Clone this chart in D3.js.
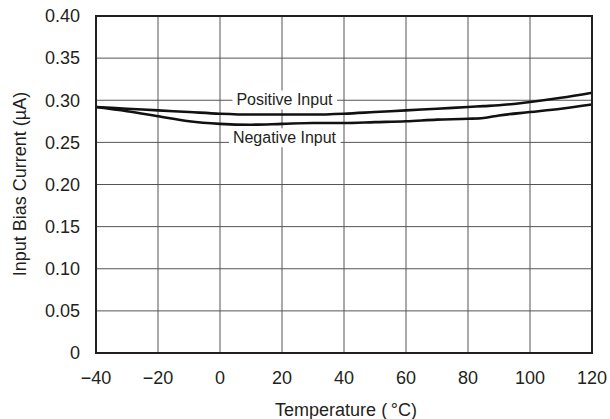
<!DOCTYPE html>
<meta charset="utf-8">
<style>
  body { margin: 0; background: #fff; }
  text { font-family: "Liberation Sans", Arial, sans-serif; fill: #231f20; }
</style>
<script src="https://d3js.org/d3.v7.min.js"></script>
<body>
<svg width="610" height="419"></svg>
<script>
const temps = [-40, -30, -20, -10, 0, 10, 20, 30, 40, 50, 60, 70, 80, 85, 90, 100, 110, 120];
const positiveInput = [0.292, 0.290, 0.288, 0.286, 0.284, 0.283, 0.283, 0.283, 0.284, 0.286, 0.288, 0.290, 0.292, 0.293, 0.294, 0.298, 0.303, 0.309];
const negativeInput = [0.292, 0.287, 0.281, 0.275, 0.272, 0.271, 0.272, 0.273, 0.273, 0.274, 0.275, 0.277, 0.278, 0.279, 0.282, 0.286, 0.290, 0.295];
const xTicks = [-40, -20, 0, 20, 40, 60, 80, 100, 120];
const yTicks = [0, 0.05, 0.10, 0.15, 0.20, 0.25, 0.30, 0.35, 0.40];

const margin = {left: 96, right: 18, top: 16, bottom: 66};
const width = 610 - margin.left - margin.right;
const height = 419 - margin.top - margin.bottom;

const x = d3.scaleLinear().domain([-40, 120]).range([0, width]);
const y = d3.scaleLinear().domain([0, 0.40]).range([height, 0]);

const svg = d3.select('svg');
const g = svg.append('g').attr('transform', `translate(${margin.left},${margin.top})`);

// grid
g.selectAll('.vgrid').data(xTicks).enter().append('line')
    .attr('x1', d => x(d)).attr('x2', d => x(d))
    .attr('y1', 0).attr('y2', height)
    .attr('stroke', '#555').attr('stroke-width', 1);
g.selectAll('.hgrid').data(yTicks).enter().append('line')
    .attr('y1', d => y(d)).attr('y2', d => y(d))
    .attr('x1', 0).attr('x2', width)
    .attr('stroke', '#555').attr('stroke-width', 1);

// tick labels
g.selectAll('.xl').data(xTicks).enter().append('text')
    .attr('x', d => x(d)).attr('y', height + 31)
    .attr('text-anchor', 'middle').attr('font-size', 18)
    .text(d => d < 0 ? '\u2212' + Math.abs(d) : d);
g.selectAll('.yl').data(yTicks).enter().append('text')
    .attr('x', -16).attr('y', d => y(d)).attr('dy', '0.35em')
    .attr('text-anchor', 'end').attr('font-size', 18)
    .text(d => d === 0 ? '0' : d3.format('.2f')(d));

// curves
const line = d3.line().x((d, i) => x(temps[i])).y(d => y(d)).curve(d3.curveMonotoneX);
[positiveInput, negativeInput].forEach(s => {
  g.append('path').attr('d', line(s))
      .attr('fill', 'none').attr('stroke', '#111').attr('stroke-width', 2.6);
});

// labels with white backing to break grid
function label(txt, cx, val) {
  const t = g.append('text').attr('x', x(cx)).attr('y', y(val)).attr('dy', '0.35em')
      .attr('text-anchor', 'middle').attr('font-size', 16).text(txt);
  const b = t.node().getBBox();
  g.insert('rect', function() { return t.node(); })
      .attr('x', b.x - 4).attr('y', b.y - 1).attr('width', b.width + 8).attr('height', b.height + 2)
      .attr('fill', '#fff');
}
label('Positive Input', 20.8, 0.3005);
label('Negative Input', 20.8, 0.2555);

// frame
g.append('rect').attr('width', width).attr('height', height)
    .attr('fill', 'none').attr('stroke', '#231f20').attr('stroke-width', 2);

// axis titles
svg.append('text').attr('x', 346).attr('y', 416)
    .attr('text-anchor', 'middle').attr('font-size', 18)
    .text('Temperature (\u2009\u00B0C)');
svg.append('text').attr('transform', `translate(26,184) rotate(-90)`)
    .attr('text-anchor', 'middle').attr('font-size', 18)
    .text('Input Bias Current (\u00B5A)');
</script>
</body>
